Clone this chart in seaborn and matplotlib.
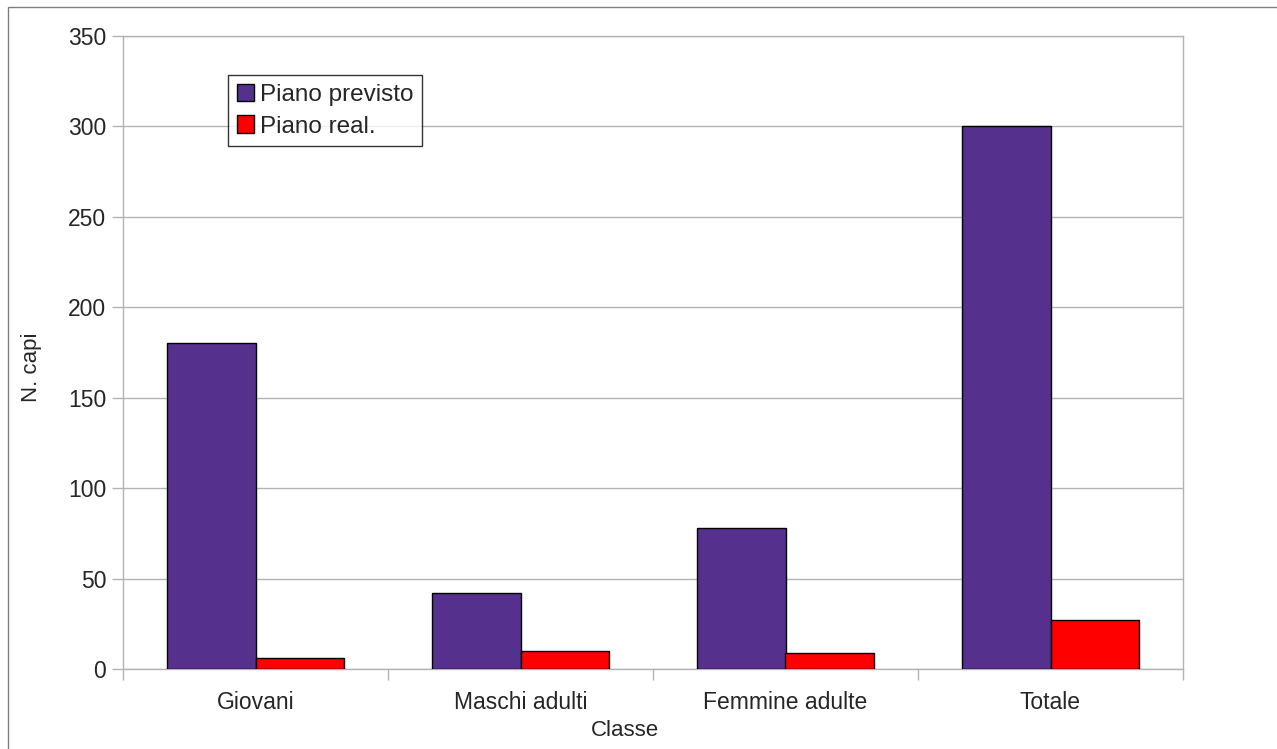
import pandas as pd
import seaborn as sns
import matplotlib.pyplot as plt
from matplotlib.patches import Rectangle
from matplotlib.ticker import FixedLocator

# data
categories = ['Giovani', 'Maschi adulti', 'Femmine adulte', 'Totale']
piano_previsto = [180, 42, 78, 300]
piano_real = [6, 10, 9, 27]
series = ['Piano previsto', 'Piano real.']

df = pd.DataFrame({
    'Classe': categories * 2,
    'Serie': [series[0]] * 4 + [series[1]] * 4,
    'N. capi': piano_previsto + piano_real,
})

sns.set_style('white')
plt.rcParams['font.family'] = ['Liberation Sans', 'DejaVu Sans']

fig = plt.figure(figsize=(12.77, 7.49), dpi=100)
ax = fig.add_axes([123 / 1277, 1 - 669 / 749, 1060 / 1277, 633 / 749])

sns.barplot(data=df, x='Classe', y='N. capi', hue='Serie', ax=ax,
            palette=['#55308d', '#ff0000'], width=0.665,
            edgecolor='black', linewidth=1, saturation=1, zorder=3)

ax.set_ylim(0, 350)
ax.set_xlim(-0.5, 3.5)
ax.set_yticks(range(0, 351, 50))
ax.yaxis.grid(True, color='#b3b3b3', linewidth=1, zorder=0)
ax.set_axisbelow(True)

# tick marks at category boundaries, labels at centres
ax.tick_params(axis='x', which='major', length=0, labelsize=16.5, pad=16)
ax.xaxis.set_minor_locator(FixedLocator([-0.5, 0.5, 1.5, 2.5, 3.5]))
ax.tick_params(axis='x', which='minor', length=8, color='#b3b3b3', width=1, direction='out', bottom=True)
ax.tick_params(axis='y', length=8, color='#b3b3b3', width=1, direction='out', labelsize=16.5, pad=4, left=True)

for s in ax.spines.values():
    s.set_color('#b3b3b3')
    s.set_linewidth(1)

ax.set_xlabel('Classe', fontsize=16)
ax.set_ylabel('N. capi', fontsize=16)
ax.xaxis.set_label_coords((625 - 123) / 1060, -(731 - 669) / 633)
ax.xaxis.label.set_va('center')
ax.yaxis.set_label_coords(-(123 - 31) / 1060, (669 - 367) / 633)
ax.yaxis.label.set_va('center')

leg = ax.legend(loc='upper left', bbox_to_anchor=((228 - 123) / 1060, (669 - 75) / 633),
                borderaxespad=0, fontsize=17.5, frameon=True, fancybox=False,
                handlelength=0.72, handleheight=0.72, handletextpad=0.25,
                labelspacing=0.4, borderpad=0.35, title=None)
leg.get_frame().set_edgecolor('black')
leg.get_frame().set_linewidth(1)

# outer chart frame
fig.patches.append(Rectangle((8 / 1277, -0.1), 1.2, 1.1 - 7 / 749,
                             transform=fig.transFigure, fill=False,
                             edgecolor='#808080', linewidth=1))

fig.savefig('out.png', dpi=100)
